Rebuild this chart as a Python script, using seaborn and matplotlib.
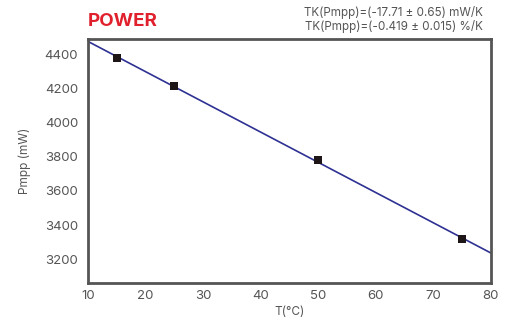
import seaborn as sns
import matplotlib.pyplot as plt
import numpy as np
import pandas as pd

# measured points
temps = [15, 25, 50, 75]
power = [4382, 4213, 3780, 3318]

coef_lines = ["TK(Pmpp)=(-17.71 \u00b1 0.65) mW/K",
              "TK(Pmpp)=(-0.419 \u00b1 0.015) %/K"]

df = pd.DataFrame({"T": temps, "P": power})

sns.set_style("white")
plt.rcParams["font.family"] = ["Inter", "DejaVu Sans"]

fig, ax = plt.subplots(figsize=(5.14, 3.21), dpi=100)
fig.subplots_adjust(left=0.171, right=0.955, top=0.878, bottom=0.118)

ax.set_xlim(10, 80)
ax.set_ylim(3060, 4490)

sns.regplot(data=df, x="T", y="P", ax=ax, ci=None, truncate=False,
            marker="s", color="#2e3192",
            scatter_kws={"s": 26, "color": "#1e1616", "linewidths": 0,
                         "alpha": 1, "zorder": 3},
            line_kws={"lw": 1.2, "zorder": 2})

ax.set_xlim(10, 80)
ax.set_ylim(3060, 4490)
ax.set_xticks(range(10, 81, 10))
ax.set_yticks(range(3200, 4401, 200))

grey = "#555555"
for s in ax.spines.values():
    s.set_color(grey)
    s.set_linewidth(2)
ax.tick_params(length=0, labelsize=9.5, labelcolor=grey)
ax.tick_params(axis="x", pad=5)
ax.tick_params(axis="y", pad=7)
ax.set_xlabel("T(\u00b0C)", fontsize=8.5, color=grey, labelpad=3)
ax.set_ylabel("Pmpp (mW)", fontsize=8.5, color=grey, labelpad=10)

fig.text(0.171, 0.908, "POWER", color="#e0202c", fontsize=13.5,
         fontweight="bold", ha="left", va="bottom")
fig.text(0.94, 0.94, coef_lines[0], color=grey, fontsize=8.4,
         ha="right", va="bottom")
fig.text(0.94, 0.897, coef_lines[1], color=grey, fontsize=8.4,
         ha="right", va="bottom")

fig.savefig("out.png", dpi=100)
